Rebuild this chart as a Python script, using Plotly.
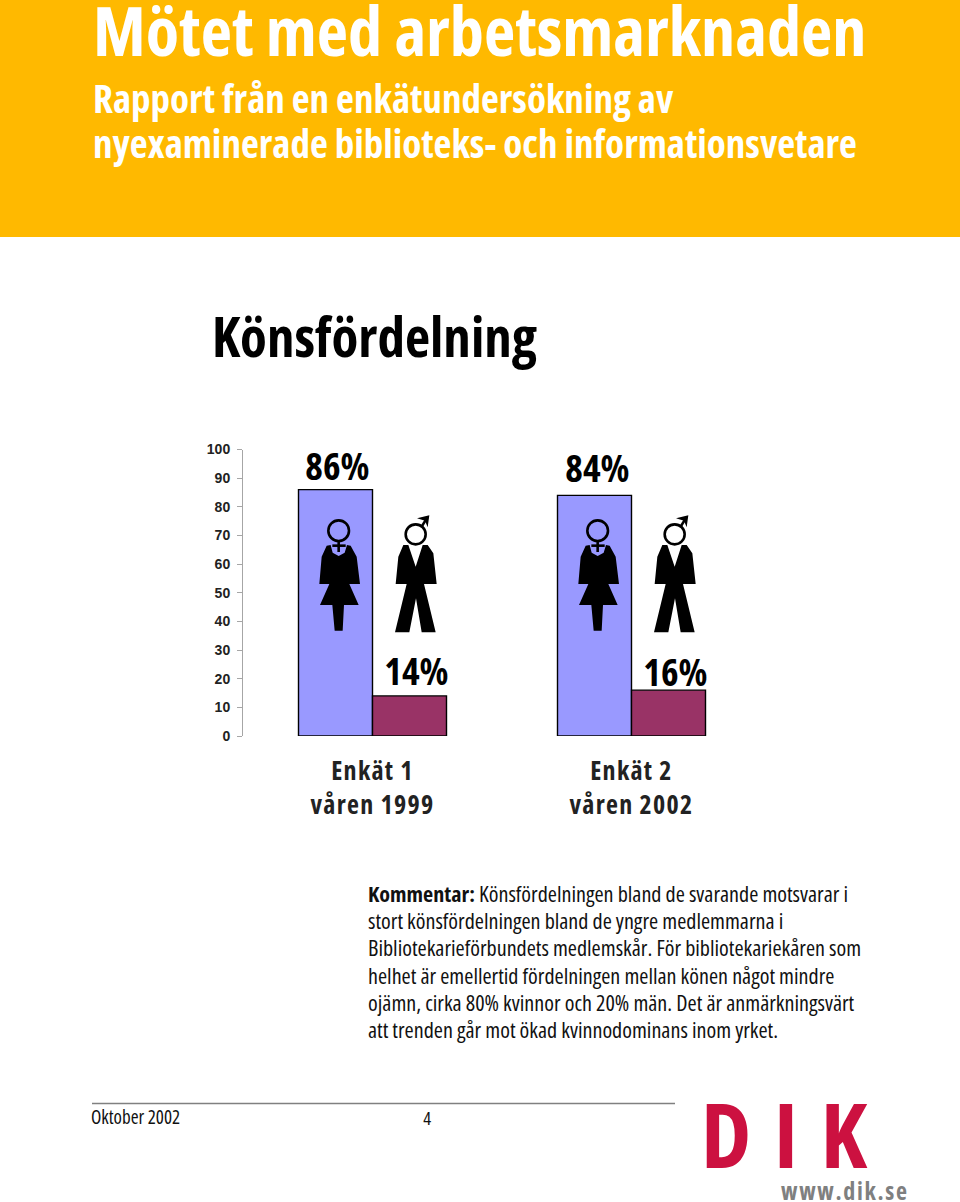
import plotly.graph_objects as go

W, H = 960, 1202
NARROW = "Open Sans"

categories = ["Enkät 1<br>våren 1999", "Enkät 2<br>våren 2002"]
women = [86, 84]
men = [14, 16]
women_labels = ["86%", "84%"]
men_labels = ["14%", "16%"]
y_ticks = [0, 10, 20, 30, 40, 50, 60, 70, 80, 90, 100]

title = "Mötet med arbetsmarknaden"
subtitle = ["Rapport från en enkätundersökning av", "nyexaminerade biblioteks- och informationsvetare"]
heading = "Könsfördelning"
comment = [
    "<b>Kommentar:</b> Könsfördelningen bland de svarande motsvarar i",
    "stort könsfördelningen bland de yngre medlemmarna i",
    "Bibliotekarieförbundets medlemskår. För bibliotekariekåren som",
    "helhet är emellertid fördelningen mellan könen något mindre",
    "ojämn, cirka 80% kvinnor och 20% män. Det är anmärkningsvärt",
    "att trenden går mot ökad kvinnodominans inom yrket.",
]

fig = go.Figure()
fig.add_bar(x=categories, y=women, marker=dict(color="#9999FF", line=dict(color="#000000", width=1.4)), showlegend=False)
fig.add_bar(x=categories, y=men, marker=dict(color="#993366", line=dict(color="#000000", width=1.4)), showlegend=False)


def px(x):
    return x / W


def py(y):
    return 1 - y / H


def text(x, y, s, size, color="#000000", bold=False, anchor="left", family=NARROW):
    fig.add_annotation(xref="paper", yref="paper", x=px(x), y=py(y), text=s, showarrow=False,
                       xanchor=anchor, yanchor="middle", align=anchor,
                       font=dict(family=family, size=size, color=color, weight="bold" if bold else "normal"),
                       borderpad=0)


# value labels anchored on the bars through the axes
label_font = dict(family=NARROW, size=37.5, color="#000000", weight="bold")
for i, cat in enumerate(categories):
    fig.add_annotation(x=cat, y=women[i], text=women_labels[i], showarrow=False, yanchor="middle",
                       xshift=[-35, -34][i], yshift=[24, 28][i], font=label_font)
    fig.add_annotation(x=cat, y=men[i], text=men_labels[i], showarrow=False, yanchor="middle",
                       xshift=[44, 44][i], yshift=[25, 19][i], font=label_font)

text(92, 30, title, 68.3, "#FFFFFF", True)
text(92, 97, subtitle[0], 39, "#FFFFFF", True)
text(92, 142, subtitle[1], 39, "#FFFFFF", True)
text(211, 336, heading, 55, "#000000", True)
for i, line in enumerate(comment):
    text(367, 893 + i * 27.2, line, 22.1, "#111111")
text(90, 1117, "Oktober 2002", 19, "#111111")
text(427, 1117, "4", 18.5, "#111111", anchor="center")
dik_index = len(fig.layout.annotations)
text(700, 1133, "D I K", 90, "#CC1140", True)
url_index = len(fig.layout.annotations)
text(780, 1190, "www.dik.se", 24, "#7F8080", True)


def rel_path(points, ox, oy):
    return "M" + " L".join(f"{px(ox + a / 3):.5f},{py(oy + b / 3):.5f}" for a, b in points) + " Z"


def line_shape(path, **kw):
    fig.add_shape(type="path", xref="paper", yref="paper", path=path, layer="above", **kw)


def ring(cx, cy, r, ox, oy):
    fig.add_shape(type="circle", xref="paper", yref="paper",
                  x0=px(ox + (cx - r) / 3), x1=px(ox + (cx + r) / 3),
                  y0=py(oy + (cy + r) / 3), y1=py(oy + (cy - r) / 3),
                  line=dict(color="#000000", width=2.6), fillcolor="rgba(0,0,0,0)", layer="above")


woman = [(380, 347), (392, 345), (398, 368), (416, 378), (434, 368), (441, 345), (452, 347), (470, 380),
         (480, 462), (448, 462), (476, 525), (432, 525), (428, 602), (404, 602), (397, 525), (360, 525),
         (388, 462), (358, 462), (365, 380)]
man = [(610, 345), (625, 345), (647, 410), (668, 345), (683, 345), (700, 370), (710, 462), (672, 462),
       (707, 607), (665, 607), (648, 505), (628, 607), (585, 607), (620, 462), (587, 462), (595, 380)]
arrow_head = [(651, 265), (688, 256), (683, 292), (675, 272)]

for ox in (200, 459):
    oy = 430
    line_shape(rel_path(woman, ox, oy), fillcolor="#000000", line=dict(width=0))
    line_shape(rel_path(man, ox, oy), fillcolor="#000000", line=dict(width=0))
    ring(416, 302, 31, ox, oy)
    ring(647, 313, 30, ox, oy)
    for seg in ([(416, 335), (416, 366)], [(397, 347), (437, 347)], [(665, 290), (682, 262)]):
        line_shape(rel_path(seg, ox, oy).replace(" Z", ""), line=dict(color="#000000", width=2.6))
    line_shape(rel_path(arrow_head, ox, oy), fillcolor="#000000", line=dict(width=0))

fig.add_shape(type="rect", xref="paper", yref="paper", x0=0, x1=1, y0=py(237), y1=1,
              fillcolor="#FFB900", line=dict(width=0), layer="below")
fig.add_shape(type="line", xref="paper", yref="paper", x0=px(92), x1=px(675), y0=py(1103.5), y1=py(1103.5),
              line=dict(color="#808080", width=1.5), layer="below")

fig.update_layout(
    width=W, height=H, autosize=False, margin=dict(l=0, r=0, t=0, b=0, autoexpand=False),
    paper_bgcolor="#FFFFFF", plot_bgcolor="#FFFFFF",
    barmode="group", bargap=0.4286, bargroupgap=0, showlegend=False,
    xaxis=dict(domain=[px(243), px(761)], type="category", showgrid=False, zeroline=False, showline=False,
               ticks="", ticklen=0, ticklabelstandoff=17,
               tickfont=dict(family=NARROW, size=26, color="#222222", weight="bold")),
    yaxis=dict(domain=[py(736), py(449.5)], range=[0, 100], tickvals=y_ticks, showgrid=False, zeroline=False,
               showline=True, linecolor="#A6A6A6", linewidth=1, ticks="outside", ticklen=5, tickcolor="#A6A6A6",
               ticklabelstandoff=4,
               tickfont=dict(family="Liberation Sans", size=14, color="#222222", weight="bold")),
)
post = """
var s=document.createElement('style');
s.textContent="html,body{margin:0;padding:0;overflow:hidden} svg text{font-stretch:75%}"
 +" .xtick text{letter-spacing:1.3px}"
 +" .annotation[data-index='DIKINDEX'] text{letter-spacing:3.3px}"
 +" .annotation[data-index='URLINDEX'] text{letter-spacing:1.7px}";
document.head.appendChild(s);
var g=document.getElementById('{plot_id}');Plotly.redraw(g);
""".replace("URLINDEX", str(url_index)).replace("DIKINDEX", str(dik_index))
fig.write_html("out.html", config=dict(displayModeBar=False), post_script=post)
